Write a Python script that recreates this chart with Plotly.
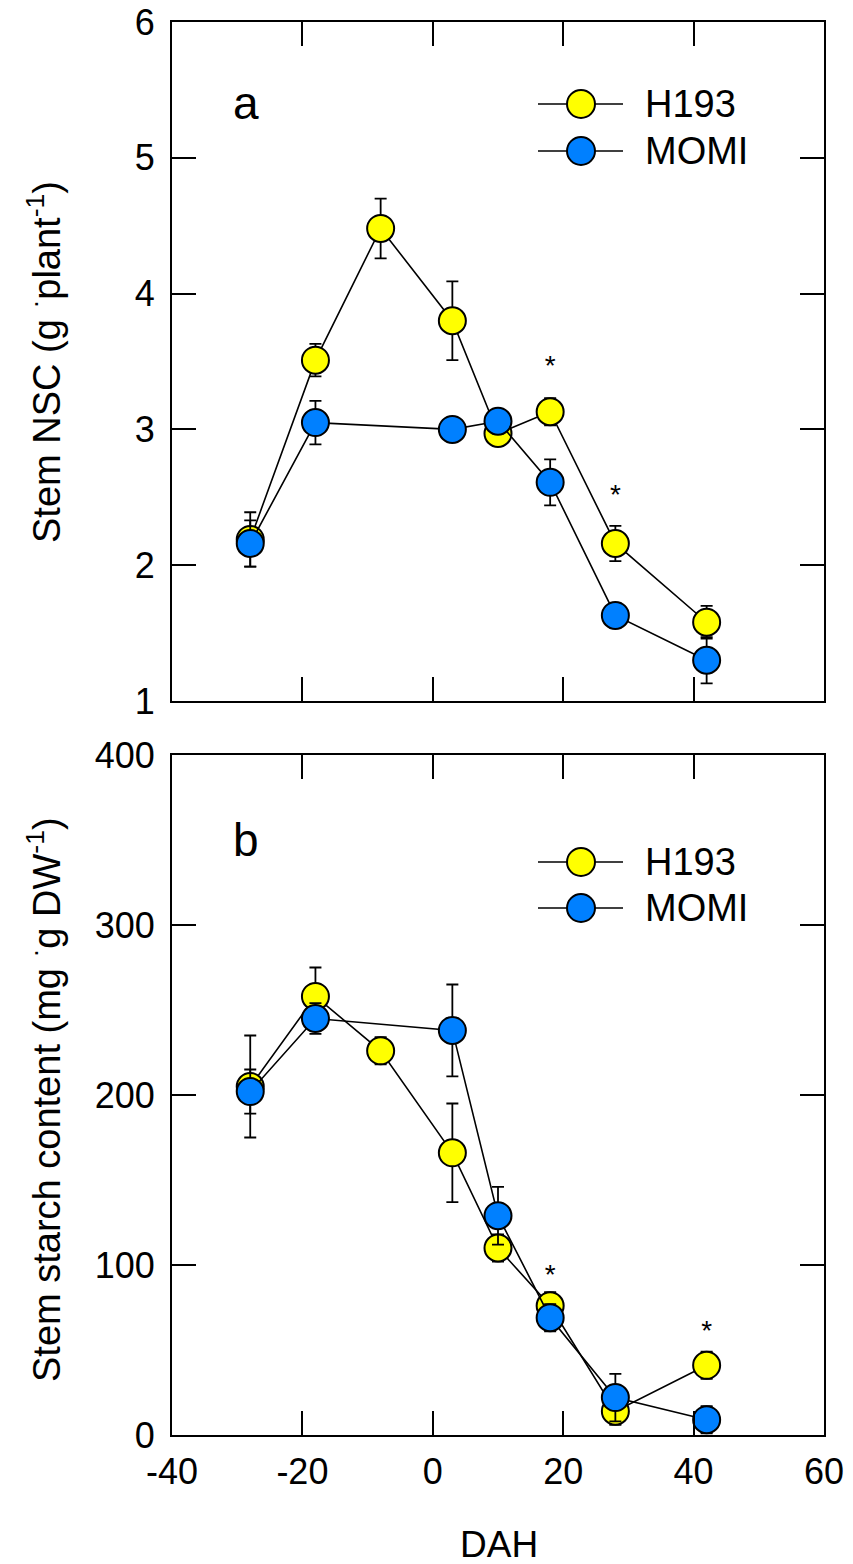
import plotly.graph_objects as go

# Days after heading (DAH)
dah_h193 = [-28, -18, -8, 3, 10, 18, 28, 42]
dah_momi = [-28, -18, 3, 10, 18, 28, 42]

# Panel a: stem NSC (g plant-1)
nsc_h193 = [2.19, 3.51, 4.48, 3.80, 2.97, 3.13, 2.16, 1.58]
nsc_h193_se = [0.20, 0.12, 0.22, 0.29, 0.08, 0.10, 0.13, 0.12]
nsc_momi = [2.16, 3.05, 3.00, 3.06, 2.61, 1.63, 1.30]
nsc_momi_se = [0.17, 0.16, 0.07, 0.09, 0.17, 0.09, 0.17]
nsc_sig_x = [18, 28]
nsc_sig_y = [3.45, 2.50]

# Panel b: stem starch content (mg g DW-1)
starch_h193 = [205, 258, 226, 166, 110, 76, 14, 41]
starch_h193_se = [30, 17, 8, 29, 8, 8, 8, 8]
starch_momi = [202, 245, 238, 129, 69, 22, 9]
starch_momi_se = [13, 9, 27, 17, 8, 14, 8]
starch_sig_x = [18, 42]
starch_sig_y = [93, 60]

# Tick labels
x_ticks = [-40, -20, 0, 20, 40, 60]
x_ticktext = ["-40", "-20", "0", "20", "40", "60"]
nsc_ticks = [1, 2, 3, 4, 5, 6]
starch_ticks = [0, 100, 200, 300, 400]

series_names = ["H193", "MOMI"]
colors = {"H193": "#FFFF00", "MOMI": "#0080FF"}

W, H = 853, 1564
ML, MR, MT, MB = 172, 29, 22, 129
PW, PH = W - ML - MR, H - MT - MB
FONT = "Liberation Sans, Arial, sans-serif"
TICK_SIZE = 36


def px_x(px):
    return (px - ML) / PW


def px_y(py):
    return (H - MB - py) / PH


fig = go.Figure()


def add_series(x, y, se, name, xa, ya):
    fig.add_trace(go.Scatter(
        x=x, y=y, mode="lines+markers", name=name, showlegend=False,
        xaxis=xa, yaxis=ya, cliponaxis=False,
        line=dict(color="black", width=1.6),
        marker=dict(size=27, color=colors[name], line=dict(color="black", width=2)),
        error_y=dict(type="data", array=se, visible=True, color="black",
                     thickness=1.8, width=6),
    ))


add_series(dah_h193, nsc_h193, nsc_h193_se, "H193", "x", "y")
add_series(dah_momi, nsc_momi, nsc_momi_se, "MOMI", "x", "y")
add_series(dah_h193, starch_h193, starch_h193_se, "H193", "x2", "y2")
add_series(dah_momi, starch_momi, starch_momi_se, "MOMI", "x2", "y2")

for sx, sy, xa, ya in [(nsc_sig_x, nsc_sig_y, "x", "y"),
                       (starch_sig_x, starch_sig_y, "x2", "y2")]:
    fig.add_trace(go.Scatter(
        x=sx, y=sy, mode="text", text=["*"] * len(sx), showlegend=False,
        xaxis=xa, yaxis=ya, textfont=dict(family=FONT, size=28, color="black"),
    ))

axis_common = dict(
    showline=True, linecolor="black", linewidth=2, mirror="ticks",
    ticks="inside", ticklen=24, tickwidth=2, tickcolor="black",
    showgrid=False, zeroline=False, automargin=False,
    tickfont=dict(family=FONT, size=TICK_SIZE, color="black"),
)

dom_a = [px_y(701), 1.0]
dom_b = [0.0, px_y(755)]

fig.update_layout(
    width=W, height=H,
    margin=dict(l=ML, r=MR, t=MT, b=MB, pad=0, autoexpand=False),
    paper_bgcolor="white", plot_bgcolor="white",
    font=dict(family=FONT, color="black"),
    xaxis=dict(range=[-40, 60], tickvals=x_ticks, ticktext=x_ticktext,
               domain=[0, 1], anchor="y", showticklabels=False, **axis_common),
    yaxis=dict(range=[1, 6], tickvals=nsc_ticks, domain=dom_a, anchor="x",
               ticklabelstandoff=8, **axis_common),
    xaxis2=dict(range=[-40, 60], tickvals=x_ticks, ticktext=x_ticktext,
                domain=[0, 1], anchor="y2", ticklabelstandoff=4, **axis_common),
    yaxis2=dict(range=[0, 400], tickvals=starch_ticks, domain=dom_b, anchor="x2",
                ticklabelstandoff=8, **axis_common),
)

annotations = [
    dict(text="Stem NSC (g <sup>·</sup>plant<sup>-1</sup>)", x=px_x(44), y=px_y(362),
         textangle=-90, font_size=38),
    dict(text="Stem starch content (mg <sup>·</sup>g DW<sup>-1</sup>)", x=px_x(44),
         y=px_y(1100), textangle=-90, font_size=38),
    dict(text="DAH", x=px_x(499), y=px_y(1545), font_size=37),
    dict(text="a", x=px_x(246), y=px_y(103), font_size=46),
    dict(text="b", x=px_x(246), y=px_y(840), font_size=46),
]
for a in annotations:
    a.update(xref="paper", yref="paper", showarrow=False,
             xanchor="center", yanchor="middle")
    a["font"] = dict(family=FONT, color="black", size=a.pop("font_size"))
    fig.add_annotation(**a)

# Legend keys drawn in each panel
shapes = []
legend_rows = [(104, 151), (862, 908)]
for rows in legend_rows:
    for name, py in zip(series_names, rows):
        shapes.append(dict(type="line", xref="paper", yref="paper",
                           x0=px_x(538), x1=px_x(623), y0=px_y(py), y1=px_y(py),
                           line=dict(color="black", width=1.6)))
        shapes.append(dict(type="circle", xref="paper", yref="paper",
                           xsizemode="pixel", ysizemode="pixel",
                           xanchor=px_x(581), yanchor=px_y(py),
                           x0=-14, x1=14, y0=-14, y1=14,
                           fillcolor=colors[name], line=dict(color="black", width=2)))
        fig.add_annotation(text=name, xref="paper", yref="paper",
                           x=px_x(643), y=px_y(py), xanchor="left", yanchor="middle",
                           showarrow=False,
                           font=dict(family=FONT, size=38, color="black"))
fig.update_layout(shapes=shapes)

fig.write_html("out.html")
